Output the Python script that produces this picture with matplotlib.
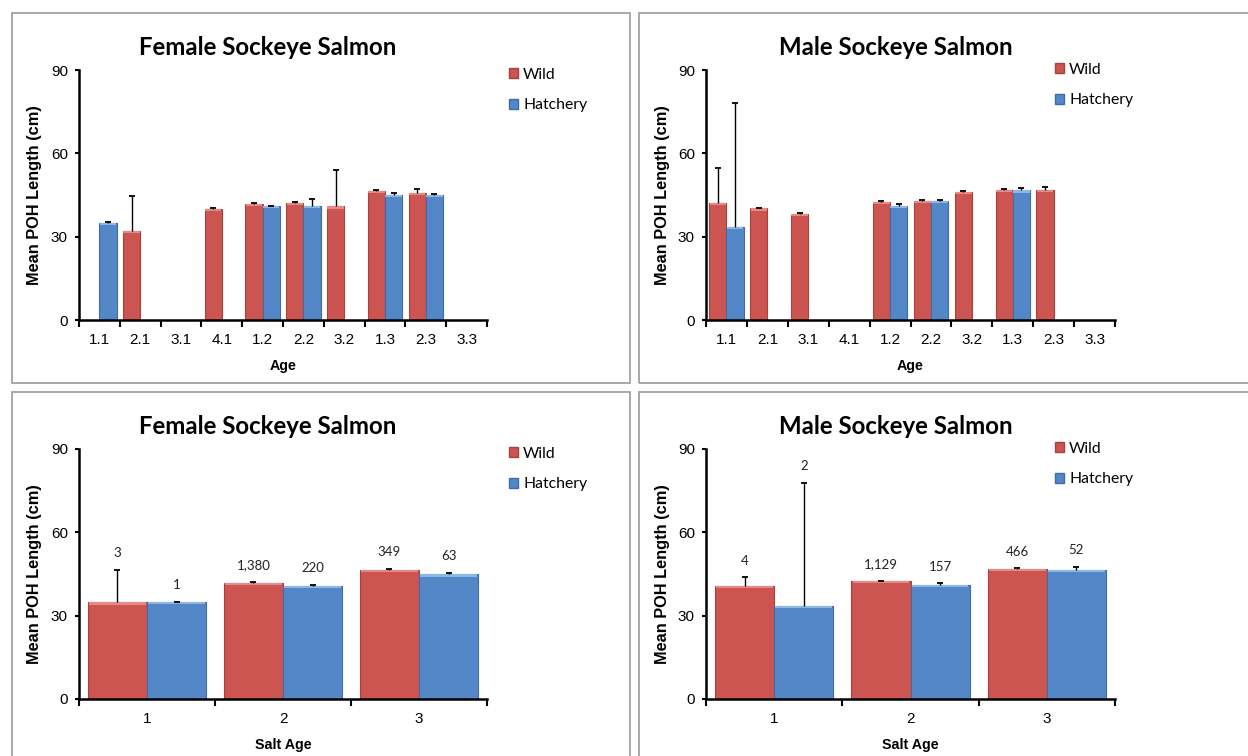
import numpy as np
import matplotlib
matplotlib.use("Agg")
import matplotlib.pyplot as plt
from matplotlib.patches import Rectangle, Patch

# ---------------- data ----------------
age_labels = ["1.1", "2.1", "3.1", "4.1", "1.2", "2.2", "3.2", "1.3", "2.3", "3.3"]
salt_labels = ["1", "2", "3"]
nan = np.nan

female_age_wild = [nan, 32.0, nan, 40.0, 41.8, 42.1, 40.9, 46.6, 45.7, nan]
female_age_wild_err = [nan, 12.8, nan, 0.2, 0.3, 0.3, 13.0, 0.3, 1.4, nan]
female_age_hatch = [35.0, nan, nan, nan, 41.0, 41.0, nan, 45.0, 45.1, nan]
female_age_hatch_err = [0.2, nan, nan, nan, 0.2, 2.6, nan, 0.6, 0.2, nan]

male_age_wild = [42.2, 40.2, 38.2, nan, 42.5, 43.0, 46.2, 46.9, 46.8, nan]
male_age_wild_err = [12.5, 0.2, 0.2, nan, 0.2, 0.2, 0.2, 0.2, 1.1, nan]
male_age_hatch = [33.5, nan, nan, nan, 41.2, 43.0, nan, 46.7, nan, nan]
male_age_hatch_err = [44.5, nan, nan, nan, 0.6, 0.2, nan, 0.9, nan, nan]

female_salt_wild = [34.8, 41.9, 46.6]
female_salt_wild_err = [11.6, 0.2, 0.3]
female_salt_hatch = [34.9, 40.8, 44.9]
female_salt_hatch_err = [0.0, 0.4, 0.6]
female_salt_wild_n = ["3", "1,380", "349"]
female_salt_hatch_n = ["1", "220", "63"]

male_salt_wild = [40.7, 42.4, 46.8]
male_salt_wild_err = [3.1, 0.2, 0.2]
male_salt_hatch = [33.4, 41.2, 46.4]
male_salt_hatch_err = [44.5, 0.4, 1.2]
male_salt_wild_n = ["4", "1,129", "466"]
male_salt_hatch_n = ["2", "157", "52"]

y_ticks = [0, 30, 60, 90]

# ---------------- style ----------------
W, H = 1248, 756
RED = "#CC5451"
RED_EDGE = "#A8403D"
RED_TOP = "#E58A87"
BLUE = "#5387C7"
BLUE_EDGE = "#3F6CA6"
BLUE_TOP = "#8DB6E6"
FRAME = "#9A9A9A"
AX_FONT = ["Liberation Sans", "Arial", "DejaVu Sans"]
CAL_FONT = ["Lato", "DejaVu Sans"]

fig = plt.figure(figsize=(W / 100, H / 100), dpi=100)
fig.patch.set_facecolor("white")


def fx(px):
    return px / W


def fy(py):
    return 1 - py / H


# panel frames
for (x0, y0, x1, y1) in [(11.5, 13, 630, 383), (639, 13, 1252, 383),
                         (11.5, 392, 630, 760), (639, 392, 1252, 760)]:
    fig.add_artist(Rectangle((fx(x0), fy(y1)), fx(x1) - fx(x0), fy(y0) - fy(y1),
                             transform=fig.transFigure, fill=False,
                             edgecolor=FRAME, linewidth=1.2, zorder=0))


def panel(l, r, t, b, cats, wild, wild_err, hatch, hatch_err, width, off,
          title, title_cx, title_base, xlabel, ylab_x, leg_x, leg_y,
          wild_n=None, hatch_n=None):
    ax = fig.add_axes([fx(l), fy(b), fx(r) - fx(l), fy(t) - fy(b)])
    x = np.arange(len(cats))
    wild = np.array(wild, float)
    hatch = np.array(hatch, float)
    we = np.array(wild_err, float)
    he = np.array(hatch_err, float)
    for vals, err, pos, col, edge, top in [
            (wild, we, x - off, RED, RED_EDGE, RED_TOP),
            (hatch, he, x + off, BLUE, BLUE_EDGE, BLUE_TOP)]:
        ax.bar(pos, vals, width=width, color=col, edgecolor=edge,
               linewidth=0.8, zorder=2)
        ax.bar(pos, np.full_like(vals, 0.8), bottom=vals - 0.8,
               width=width * 0.96, color=top, linewidth=0, zorder=2.5)
        ax.vlines(pos, vals, vals + err, colors="black", linewidth=1.0,
                  zorder=3)
        ax.plot(pos, vals + err, ls="none", marker="_", markersize=4.6,
                markeredgewidth=1.3, color="black", zorder=3)
    if wild_n is not None:
        for xi, v, e, s in zip(x - off, wild, we, wild_n):
            ax.text(xi, v + e + 6, s, ha="center", va="center",
                    fontsize=9.5, family=CAL_FONT, color="#222222")
        for xi, v, e, s in zip(x + off, hatch, he, hatch_n):
            ax.text(xi, v + e + 6, s, ha="center", va="center",
                    fontsize=9.5, family=CAL_FONT, color="#222222")

    ax.set_xlim(-0.5, len(cats) - 0.5)
    ax.set_ylim(0, 90)
    ax.set_yticks(y_ticks)
    ax.set_yticklabels([str(v) for v in y_ticks], family=AX_FONT, fontsize=11)
    ax.set_xticks(np.arange(len(cats) + 1) - 0.5)
    ax.set_xticklabels([])
    ax.set_xticks(x, minor=True)
    ax.set_xticklabels(cats, minor=True, family=AX_FONT, fontsize=11)
    ax.tick_params(axis="x", which="major", direction="out", length=5,
                   width=1.5, color="black")
    ax.tick_params(axis="x", which="minor", length=0, pad=9.5)
    ax.tick_params(axis="y", direction="out", length=3.0, width=1.5, pad=5)
    for s in ["top", "right"]:
        ax.spines[s].set_visible(False)
    for s in ["left", "bottom"]:
        ax.spines[s].set_linewidth(1.8)
        ax.spines[s].set_color("black")
    ax.patch.set_alpha(0)

    fig.text(fx(title_cx), fy(title_base), title, ha="center", va="baseline",
             family=CAL_FONT, fontweight="bold", fontsize=17.3)
    fig.text(fx((l + r) / 2), fy(b + 46), xlabel, ha="center", va="center",
             family=AX_FONT, fontweight="bold", fontsize=10.3)
    fig.text(fx(ylab_x), fy((t + b) / 2), "Mean POH Length (cm)", ha="center",
             va="center", rotation=90, family=AX_FONT, fontweight="bold",
             fontsize=11.8)

    handles = [Patch(facecolor=RED, edgecolor=RED_EDGE, label="Wild"),
               Patch(facecolor=BLUE, edgecolor=BLUE_EDGE, label="Hatchery")]
    fig.legend(handles=handles, loc="upper left",
               bbox_to_anchor=(fx(leg_x), fy(leg_y)),
               bbox_transform=fig.transFigure, frameon=False,
               prop={"family": CAL_FONT, "size": 11.3},
               handlelength=0.6, handleheight=0.6, handletextpad=0.3,
               labelspacing=1.05, borderpad=0, borderaxespad=0)
    return ax


panel(79, 487, 70, 320, age_labels, female_age_wild, female_age_wild_err,
      female_age_hatch, female_age_hatch_err, 0.42, 0.21,
      "Female Sockeye Salmon", 268, 55, "Age", 35, 509, 68)
panel(706, 1115, 70, 320, age_labels, male_age_wild, male_age_wild_err,
      male_age_hatch, male_age_hatch_err, 0.42, 0.21,
      "Male Sockeye Salmon", 896, 55, "Age", 662, 1055, 63)
panel(79, 487, 449, 699, salt_labels, female_salt_wild, female_salt_wild_err,
      female_salt_hatch, female_salt_hatch_err, 0.434, 0.217,
      "Female Sockeye Salmon", 268, 434, "Salt Age", 35, 509, 447,
      female_salt_wild_n, female_salt_hatch_n)
panel(706, 1115, 449, 699, salt_labels, male_salt_wild, male_salt_wild_err,
      male_salt_hatch, male_salt_hatch_err, 0.434, 0.217,
      "Male Sockeye Salmon", 896, 434, "Salt Age", 662, 1055, 442,
      male_salt_wild_n, male_salt_hatch_n)

fig.savefig("out.png", dpi=100, facecolor="white")
